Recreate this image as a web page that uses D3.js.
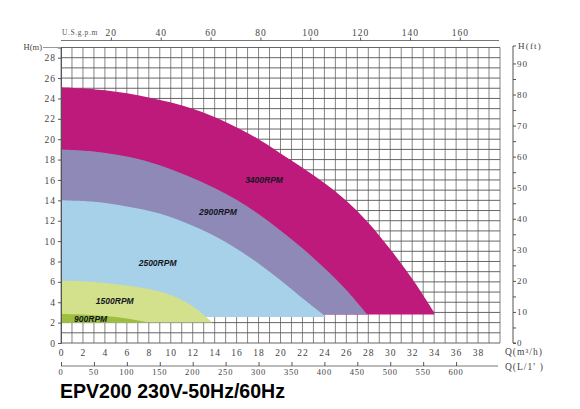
<!DOCTYPE html>
<html><head><meta charset="utf-8">
<script src="https://cdn.jsdelivr.net/npm/d3@7"></script>
<style>body{margin:0;background:#fff}svg{display:block}</style>
</head><body>
<svg id="c" width="580" height="409"></svg>
<script>
// ---- data (Q in m³/h, H in m) ----
const rpm3400 = [[0,25.1],[4,24.8],[8,24.1],[12,23.0],[15,21.7],[18,20.0],[21,17.9],[24,15.7],[26,13.95],[28,11.8],[30,9.2],[32,6.3],[34,3.0]];
const rpm2900 = [[0,19.0],[3,18.8],[6,18.3],[9,17.45],[12,16.2],[14,15.2],[16,14.05],[18,12.65],[20,11.05],[22,9.3],[24,7.35],[26,5.2],[27.9,2.8]];
const rpm2500 = [[0,14.0],[3,13.85],[6,13.4],[9,12.7],[12,11.5],[14,10.5],[16,9.25],[18,7.8],[20,6.15],[22,4.4],[24.2,2.55]];
const rpm1500 = [[0,6.1],[2,6.05],[4,5.9],[6,5.65],[8,5.3],[10,4.7],[12,3.6],[13.8,2.0]];
const rpm900  = [[0,2.85],[2,2.8],[4,2.65],[6,2.4],[8,2.0]];
const seriesNames = ["3400RPM","2900RPM","2500RPM","1500RPM","900RPM"];
const seriesBase = [2.8, 2.8, 2.55, 2.0, 2.0];
const labelPos = [[18.5,15.9],[14.3,12.8],[8.8,7.8],[4.9,4.0],[2.7,2.3]];
const colors = ["#bd1a7b","#8e89b6","#a6d1e9","#d3e08c","#9cbf3e"];
const hTicks = [0,2,4,6,8,10,12,14,16,18,20,22,24,26,28];
const qTicks = [0,2,4,6,8,10,12,14,16,18,20,22,24,26,28,30,32,34,36,38];
const gpmTicks = [20,40,60,80,100,120,140,160];
const ftTicks = [0,10,20,30,40,50,60,70,80,90];
const lpmTicks = [0,50,100,150,200,250,300,350,400,450,500,550,600];
const title = "EPV200 230V-50Hz/60Hz";

const svg = d3.select("#c");
const x = d3.scaleLinear().domain([0,40]).range([61,500]);
const y = d3.scaleLinear().domain([0,29]).range([343,47.5]);
const xg = d3.scaleLinear().domain([0,40*4.403]).range([61,500]);
const yf = d3.scaleLinear().domain([0,29/0.3048]).range([343,47.5]);
const xl = d3.scaleLinear().domain([0,40*16.667]).range([61,500]);

const tickFont = "'Liberation Serif', 'DejaVu Serif', serif";
const tc = "#555";

// grid
const g = svg.append("g");
g.selectAll("line.v").data(d3.range(0,41)).join("line")
  .attr("x1",d=>x(d)).attr("x2",d=>x(d)).attr("y1",y(0)).attr("y2",y(29))
  .attr("stroke","#777").attr("stroke-width",0.9);
g.selectAll("line.h").data(d3.range(0,30)).join("line")
  .attr("x1",x(0)).attr("x2",x(40)).attr("y1",d=>y(d)).attr("y2",d=>y(d))
  .attr("stroke","#555").attr("stroke-width",0.9);

// regions
const all = [rpm3400,rpm2900,rpm2500,rpm1500,rpm900];
all.forEach((s,i)=>{
  const area = d3.area().x(d=>x(d[0])).y0(y(seriesBase[i])).y1(d=>y(d[1])).curve(d3.curveCatmullRom.alpha(0.5));
  svg.append("path").attr("d",area(s)).attr("fill",colors[i]);
});
svg.selectAll("text.rpm").data(seriesNames).join("text")
  .attr("x",(d,i)=>x(labelPos[i][0])).attr("y",(d,i)=>y(labelPos[i][1]))
  .attr("text-anchor","middle").attr("dominant-baseline","middle")
  .attr("font-family","'Liberation Sans', Arial, sans-serif").attr("font-weight","bold")
  .attr("font-style","italic").attr("font-size",8.5).attr("fill","#15151f").text(d=>d);

// left axis H(m)
const la = svg.append("g").attr("transform",`translate(${x(0)},0)`)
  .call(d3.axisLeft(y).tickValues(hTicks).tickSize(3).tickPadding(2));
la.select(".domain").attr("stroke",tc);
la.selectAll("line").attr("stroke",tc);
la.selectAll("text").attr("font-family",tickFont).attr("font-size",9.5).attr("fill","#444").attr("letter-spacing",1);
svg.append("text").attr("x",42).attr("y",50).attr("text-anchor","end")
  .attr("font-family",tickFont).attr("font-size",8.5).attr("fill","#444").text("H(m)");
svg.append("line").attr("x1",43).attr("x2",61).attr("y1",47.5).attr("y2",47.5).attr("stroke","#999");

// top axis gpm
const ta = svg.append("g").attr("transform","translate(0,40.5)")
  .call(d3.axisTop(xg).tickValues(gpmTicks).tickSize(3).tickPadding(2));
ta.select(".domain").attr("stroke","#777").attr("d","M61,0H499");
ta.selectAll("line").attr("stroke",tc);
ta.selectAll("text").attr("font-family",tickFont).attr("font-size",9.5).attr("fill","#444").attr("letter-spacing",1);
svg.append("text").attr("x",62).attr("y",35).attr("font-family",tickFont).attr("font-size",7.5)
  .attr("fill","#555").attr("letter-spacing",0.6).text("U.S.g.p.m");

// right axis H(ft)
const ra = svg.append("g").attr("transform","translate(513,0)")
  .call(d3.axisRight(yf).tickValues(d3.range(0,95,5)).tickSize(3).tickPadding(1)
    .tickFormat(d=>ftTicks.includes(d)?d:""));
ra.select(".domain").attr("stroke",tc).attr("d","M3,46H0V343H3");
ra.selectAll("line").attr("stroke",tc);
ra.selectAll("text").attr("font-family",tickFont).attr("font-size",9).attr("fill","#444").attr("letter-spacing",1);
svg.append("text").attr("x",518).attr("y",49).attr("font-family",tickFont).attr("font-size",9)
  .attr("fill","#444").attr("letter-spacing",1.2).text("H(ft)");

// bottom axis m³/h (labels only)
const ba = svg.append("g").attr("transform",`translate(0,${y(0)})`)
  .call(d3.axisBottom(x).tickValues(qTicks).tickSize(0).tickPadding(6));
ba.select(".domain").remove();
ba.selectAll("text").attr("font-family",tickFont).attr("font-size",9.5).attr("fill","#444").attr("letter-spacing",1);
svg.append("text").attr("x",505).attr("y",355).attr("font-family",tickFont).attr("font-size",9.5)
  .attr("fill","#444").attr("letter-spacing",1).text("Q(m³/h)");

// L/min axis
const lb = svg.append("g").attr("transform","translate(0,366)")
  .call(d3.axisTop(xl).tickValues(lpmTicks).tickSize(4).tickFormat(""));
lb.select(".domain").attr("stroke","#777").attr("d","M61,0H498");
lb.selectAll("line").attr("stroke",tc);
svg.append("g").selectAll("text").data(lpmTicks).join("text")
  .attr("x",d=>xl(d)).attr("y",374.5).attr("text-anchor","middle")
  .attr("font-family",tickFont).attr("font-size",8.5).attr("fill","#444").attr("letter-spacing",0.8).text(d=>d);
svg.append("text").attr("x",505).attr("y",370).attr("font-family",tickFont).attr("font-size",9.5)
  .attr("fill","#444").attr("letter-spacing",1).text("Q(L/1′ )");

// title
svg.append("text").attr("x",60).attr("y",398.3).attr("font-family","'Liberation Sans', Arial, sans-serif")
  .attr("font-weight","bold").attr("font-size",21).attr("fill","#000")
  .attr("textLength",225).attr("lengthAdjust","spacingAndGlyphs").text(title);
</script>
</body></html>
